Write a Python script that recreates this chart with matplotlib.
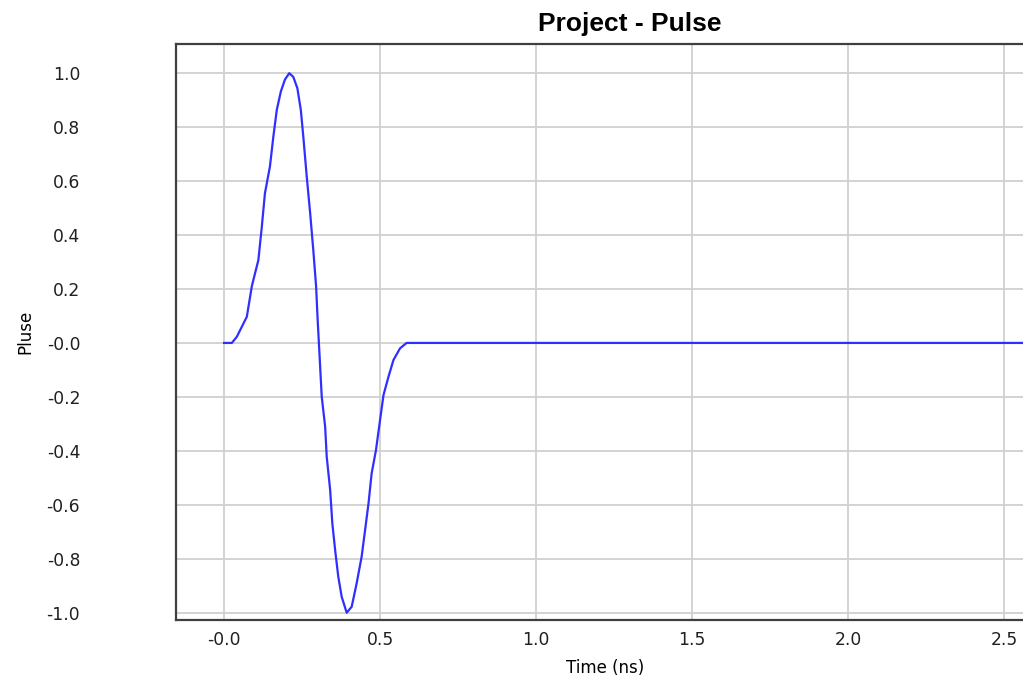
import matplotlib
matplotlib.use("Agg")
import matplotlib.pyplot as plt

# Data
time_ns = [0.000, 0.025, 0.041, 0.073, 0.089, 0.110, 0.121, 0.131, 0.147, 0.158,
           0.169, 0.182, 0.195, 0.209, 0.222, 0.235, 0.246, 0.254, 0.265, 0.276,
           0.286, 0.295, 0.300, 0.306, 0.313, 0.324, 0.329, 0.340, 0.347, 0.356,
           0.366, 0.377, 0.393, 0.409, 0.425, 0.441, 0.452, 0.463, 0.473, 0.487,
           0.500, 0.511, 0.527, 0.543, 0.564, 0.585, 1.000, 2.000, 2.760]
pulse = [0.000, 0.000, 0.023, 0.097, 0.210, 0.307, 0.430, 0.554, 0.653, 0.764,
         0.863, 0.931, 0.975, 0.999, 0.985, 0.943, 0.863, 0.764, 0.616, 0.480,
         0.344, 0.209, 0.085, -0.045, -0.199, -0.310, -0.421, -0.544, -0.668, -0.767,
         -0.865, -0.940, -0.999, -0.977, -0.890, -0.791, -0.693, -0.594, -0.483, -0.396,
         -0.285, -0.193, -0.125, -0.063, -0.020, 0.000, 0.000, 0.000, 0.000]

x_ticks = [0.0, 0.5, 1.0, 1.5, 2.0, 2.5]
x_tick_labels = ["-0.0", "0.5", "1.0", "1.5", "2.0", "2.5"]
y_ticks = [-1.0, -0.8, -0.6, -0.4, -0.2, 0.0, 0.2, 0.4, 0.6, 0.8, 1.0]
y_tick_labels = ["-1.0", "-0.8", "-0.6", "-0.4", "-0.2", "-0.0",
                 "0.2", "0.4", "0.6", "0.8", "1.0"]

W, H = 1023, 681
fig = plt.figure(figsize=(W / 100, H / 100), dpi=100)
left, right, top, bottom = 176, 1084, 44, 620
ax = fig.add_axes([left / W, (H - bottom) / H, (right - left) / W, (bottom - top) / H])

ax.plot(time_ns, pulse, color="#2f2fff", linewidth=1.6, zorder=3)

ax.set_xlim(-0.154, 2.756)
ax.set_ylim(-1.026, 1.107)
ax.set_xticks(x_ticks)
ax.set_xticklabels(x_tick_labels)
ax.set_yticks(y_ticks)
ax.set_yticklabels(y_tick_labels)

ax.grid(True, color="#d0d0d0", linewidth=1.3, zorder=0)
ax.set_axisbelow(True)

for side in ["left", "bottom", "top", "right"]:
    ax.spines[side].set_color("#404040")
    ax.spines[side].set_linewidth(1.6)

ax.tick_params(axis="both", length=0, labelsize=12.3, colors="#202020")
ax.tick_params(axis="x", pad=8)
ax.tick_params(axis="y", pad=69)

ax.set_title("Project - Pulse", fontsize=19, fontweight="bold",
             family="Liberation Sans", pad=9)
ax.set_xlabel("Time (ns)", fontsize=12)
ax.xaxis.set_label_coords((605 - left) / (right - left), -(668 - bottom) / (bottom - top))
ax.xaxis.label.set_va("center")
ax.set_ylabel("Pluse", fontsize=12)
ax.yaxis.set_label_coords(-(176 - 25) / (right - left), 0.5)
ax.yaxis.label.set_va("center")

fig.savefig("out.png", dpi=100)
